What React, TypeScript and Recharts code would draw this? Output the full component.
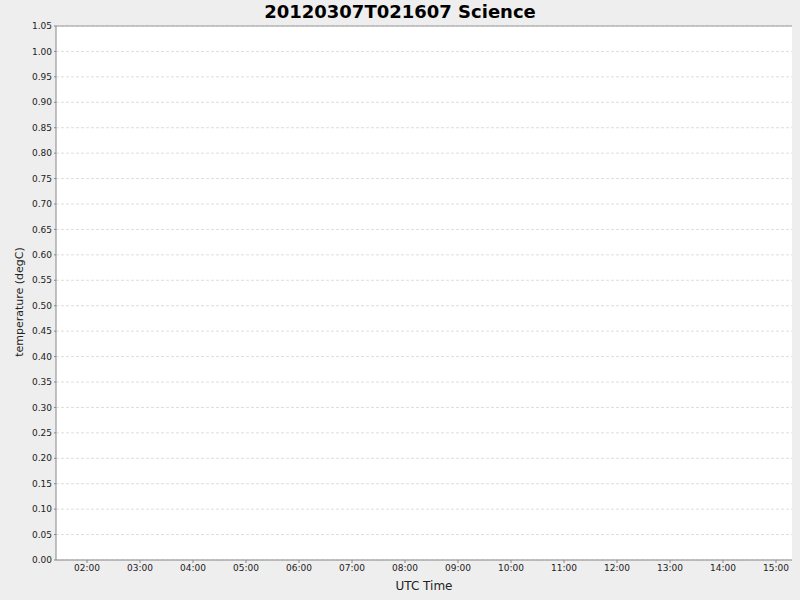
import React from 'react';
import {
  ComposedChart,
  Line,
  XAxis,
  YAxis,
  CartesianGrid,
  ReferenceLine,
} from 'recharts';

const TITLE = '20120307T021607 Science';
const X_LABEL = 'UTC Time';
const Y_LABEL = 'temperature (degC)';

// x axis tick positions (hours UTC)
const hourTicks: number[] = [2, 3, 4, 5, 6, 7, 8, 9, 10, 11, 12, 13, 14, 15];
// y axis ticks
const tempTicks: number[] = [
  0, 0.05, 0.1, 0.15, 0.2, 0.25, 0.3, 0.35, 0.4, 0.45, 0.5, 0.55, 0.6, 0.65,
  0.7, 0.75, 0.8, 0.85, 0.9, 0.95, 1.0, 1.05,
];
// the series in the reference is empty (no values plotted)
const temperatureValues: (number | null)[] = hourTicks.map(() => null);

const xDomain: [number, number] = [1.415, 15.302];
const yDomain: [number, number] = [0, 1.05];

const data = hourTicks.map((h, i) => ({ t: h, temperature: temperatureValues[i] }));

const FONT = '"DejaVu Sans", sans-serif';

const fmtHour = (h: number) => `${String(Math.round(h)).padStart(2, '0')}:00`;

const YLabel = () => {
  const cx = 19;
  const cy = 302;
  return (
    <text
      x={cx}
      y={cy}
      transform={`rotate(-90, ${cx}, ${cy})`}
      textAnchor="middle"
      dominantBaseline="central"
      fontFamily={FONT}
      fontSize={11}
      fill="#222"
    >
      {Y_LABEL}
    </text>
  );
};

const XLabel = (props: any) => {
  const vb = props.viewBox || { x: 56, y: 560, width: 736, height: 40 };
  return (
    <text
      x={vb.x + vb.width / 2}
      y={586}
      textAnchor="middle"
      dominantBaseline="central"
      fontFamily={FONT}
      fontSize={12}
      fill="#222"
    >
      {X_LABEL}
    </text>
  );
};

export default function App() {
  return (
    <div
      style={{
        position: 'absolute',
        left: 0,
        top: 0,
        width: 800,
        height: 600,
        background: '#eeeeee',
        fontFamily: FONT,
      }}
    >
      <div
        style={{
          position: 'absolute',
          left: 0,
          top: 0,
          width: 800,
          textAlign: 'center',
          fontSize: 18,
          fontWeight: 'bold',
          lineHeight: '24px',
          color: '#000',
        }}
      >
        {TITLE}
      </div>
      <ComposedChart
        width={800}
        height={600}
        data={data}
        margin={{ top: 26, right: 8, bottom: 0, left: 0 }}
        style={{ position: 'absolute', left: 0, top: 0 }}
      >
        <CartesianGrid
          horizontal
          vertical={false}
          stroke="#dedede"
          strokeDasharray="3 2"
          fill="#ffffff"
          fillOpacity={1}
        />
        <XAxis
          dataKey="t"
          type="number"
          domain={xDomain}
          allowDataOverflow
          ticks={hourTicks}
          tickFormatter={fmtHour}
          interval={0}
          height={40}
          stroke="#888888"
          tickSize={3}
          tickMargin={2}
          tick={{ fontSize: 9, fill: '#222', fontFamily: FONT }}
          label={<XLabel />}
        />
        <YAxis
          type="number"
          domain={yDomain}
          allowDataOverflow
          ticks={tempTicks}
          tickFormatter={(v: number) => v.toFixed(2)}
          interval={0}
          width={56}
          stroke="#888888"
          tickSize={2}
          tickMargin={2}
          tick={{ fontSize: 9, fill: '#222', fontFamily: FONT }}
          label={<YLabel />}
        />
        <ReferenceLine y={1.05} stroke="#999999" strokeWidth={1} />
        <Line
          dataKey="temperature"
          stroke="#ff0000"
          dot={false}
          isAnimationActive={false}
        />
      </ComposedChart>
    </div>
  );
}
